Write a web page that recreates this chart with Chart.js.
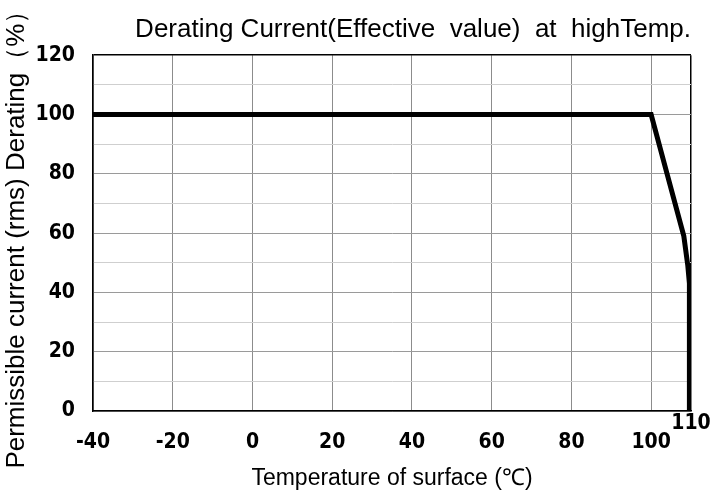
<!DOCTYPE html>
<html>
<head>
<meta charset="utf-8">
<script src="https://cdn.jsdelivr.net/npm/chart.js@4/dist/chart.umd.min.js"></script>
<style>
  html, body { margin: 0; padding: 0; background: #fff; }
  #wrap { width: 713px; height: 497px; }
</style>
</head>
<body>
<div id="wrap"><canvas id="derating"></canvas></div>
<script>
// Temperature (deg C) and permissible current (%)
const temps = [-40, 100, 104, 108.2, 109.2, 109.6, 109.6];
const derating = [100, 100, 80, 59, 49, 43, 0];

// x tick positions, last one labelled separately (raised)
const xTicks = [-40, -20, 0, 20, 40, 60, 80, 100, 110];
const yLabelled = [0, 20, 40, 60, 80, 100, 120];

const tickFont = { family: '"Liberation Sans Narrow", "DejaVu Sans Condensed", sans-serif', size: 21, weight: 'bold' };
const textFont = '"Liberation Sans", Arial, sans-serif';

// draws the "110" label a bit higher than the others, like the original
const raisedLabel = {
    id: 'raisedLabel',
    afterDraw(chart) {
        const ctx = chart.ctx;
        const xs = chart.scales.x;
        ctx.save();
        ctx.font = 'bold 21px "Liberation Sans Narrow", "DejaVu Sans Condensed", sans-serif';
        ctx.fillStyle = '#000';
        ctx.textAlign = 'center';
        ctx.textBaseline = 'top';
        ctx.fillText('110', xs.getPixelForValue(110), chart.chartArea.bottom + 2);
        ctx.restore();
    }
};

const ctx = document.getElementById('derating').getContext('2d');

new Chart(ctx, {
    type: 'scatter',
    data: {
        datasets: [{
            data: temps.map((t, i) => ({ x: t, y: derating[i] })),
            showLine: true,
            borderColor: '#000',
            borderWidth: 5,
            pointRadius: 0,
            fill: false
        }]
    },
    options: {
        responsive: true,
        maintainAspectRatio: false,
        animation: false,
        layout: { padding: { left: 0, right: 22, top: 0, bottom: 0 } },
        plugins: {
            legend: { display: false },
            tooltip: { enabled: false },
            title: {
                display: true,
                text: 'Derating Current(Effective  value)  at  highTemp.',
                align: 'end',
                color: '#000',
                font: { family: textFont, size: 26, weight: 'normal' },
                padding: { top: 14, bottom: 10 }
            }
        },
        scales: {
            x: {
                type: 'linear',
                min: -40,
                max: 110,
                afterBuildTicks: (scale) => { scale.ticks = xTicks.map(v => ({ value: v })); },
                afterFit: (scale) => { scale.height = 86; },
                ticks: {
                    color: '#000',
                    font: tickFont,
                    padding: 19,
                    maxRotation: 0,
                    autoSkip: false,
                    callback: (v) => (v === 110 ? '' : v)
                },
                grid: {
                    drawTicks: false,
                    color: (c) => (c.tick && c.tick.value === 110 ? '#000' : '#8c8c8c'),
                    lineWidth: (c) => (c.tick && c.tick.value === 110 ? 1.5 : 1)
                },
                border: { color: '#000', width: 1.5 },
                title: {
                    display: true,
                    text: 'Temperature of surface (℃)',
                    color: '#000',
                    font: { family: textFont, size: 23, weight: 'normal' },
                    padding: { top: 0, bottom: 5 }
                }
            },
            y: {
                min: 0,
                max: 120,
                afterFit: (scale) => { scale.width = 93; },
                ticks: {
                    stepSize: 10,
                    color: '#000',
                    font: tickFont,
                    padding: 18,
                    autoSkip: false,
                    callback: (v) => (yLabelled.includes(v) ? v : '')
                },
                grid: {
                    drawTicks: false,
                    color: (c) => {
                        if (!c.tick) return '#ccc';
                        if (c.tick.value === 120) return '#000';
                        return c.tick.value % 20 === 0 ? '#9a9a9a' : '#cfcfcf';
                    },
                    lineWidth: (c) => (c.tick && c.tick.value === 120 ? 1.5 : 1)
                },
                border: { color: '#000', width: 1.5 },
                title: {
                    display: true,
                    text: 'Permissible current (rms) Derating（%）',
                    color: '#000',
                    font: { family: textFont, size: 26, weight: 'normal' },
                    padding: { top: 1, bottom: 0 }
                }
            }
        }
    },
    plugins: [raisedLabel]
});
</script>
</body>
</html>
